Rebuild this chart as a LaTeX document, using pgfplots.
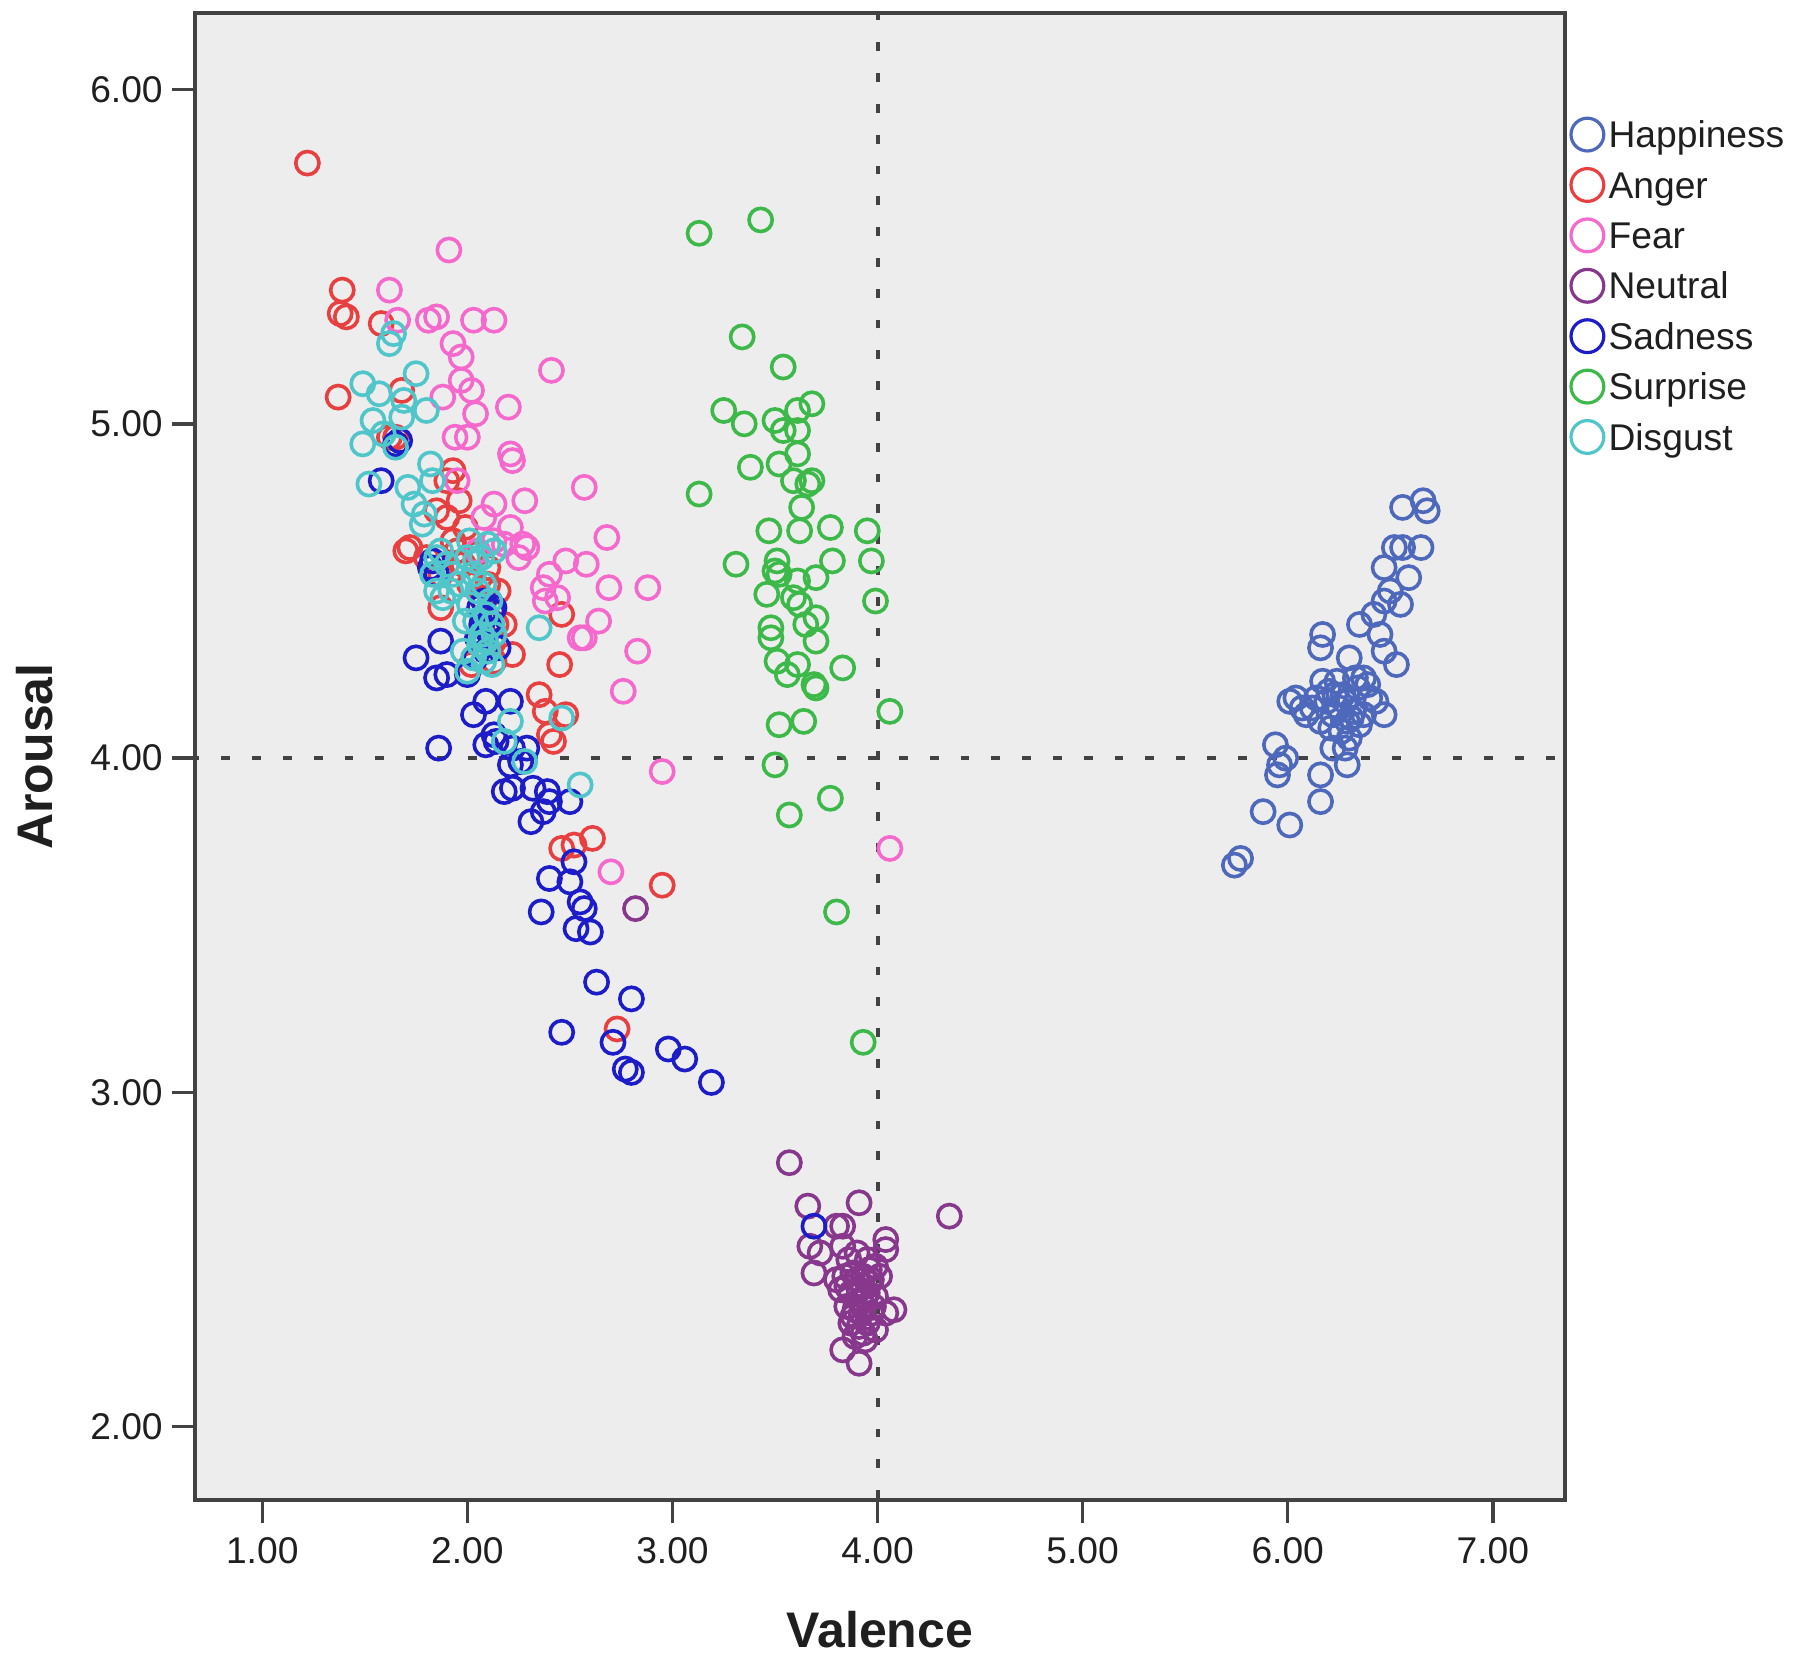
\documentclass[border=0pt]{standalone}
\usepackage{pgfplots}
\pgfplotsset{compat=1.18}
\usepackage{fontspec}
\setmainfont{Liberation Sans}
\definecolor{cHap}{RGB}{78,104,188}
\definecolor{cAng}{RGB}{232,64,64}
\definecolor{cFea}{RGB}{245,105,205}
\definecolor{cNeu}{RGB}{135,55,140}
\definecolor{cSad}{RGB}{28,28,200}
\definecolor{cSur}{RGB}{60,185,72}
\definecolor{cDis}{RGB}{80,198,202}
\definecolor{bgc}{RGB}{236,237,236}
\definecolor{framec}{RGB}{66,66,66}
\begin{document}
\begin{tikzpicture}
\begin{axis}[
  name=ax, scale only axis, width=342.5pt, height=371.75pt,
  xmin=0.672, xmax=7.352, ymin=1.781, ymax=6.229,
  axis background/.style={fill=bgc},
  axis line style={draw=framec, line width=0.85pt},
  xtick={1,2,3,4,5,6,7}, ytick={2,3,4,5,6},
  xtick pos=left, ytick pos=left, tick align=outside,
  major tick length=5.75pt,
  every tick/.style={draw=framec, line width=0.85pt},
  ticklabel style={font=\fontsize{9.3}{11}\selectfont, text=black!88},
  yticklabel style={xshift=1.2pt},
  /pgf/number format/fixed, /pgf/number format/fixed zerofill,
  /pgf/number format/precision=2, /pgf/number format/assume math mode=true,
  xlabel={Valence}, ylabel={Arousal},
  every axis x label/.style={at={(axis description cs:0.5,-0.0874)}, anchor=center, font=\fontsize{12.5}{15}\selectfont\bfseries, text=black!88},
  every axis y label/.style={at={(axis description cs:-0.1168,0.5)}, anchor=center, rotate=90, font=\fontsize{12.5}{15}\selectfont\bfseries, text=black!88},
  legend style={at={(axis description cs:1,1)}, anchor=north west, xshift=1.5pt, yshift=-26.3pt,
    draw=none, fill=none, inner sep=0pt, outer sep=0pt, row sep=3.2pt, column sep=1.2pt,
    font=\fontsize{9.3}{11}\selectfont, text=black!88,
    cells={anchor=base west}, nodes={inner sep=0pt, text height=6.7pt, text depth=2pt}},
  legend image code/.code={\draw[#1, mark size=4.1pt, line width=0.8pt] plot coordinates {(0pt,3.3pt)};},
  every axis plot/.append style={only marks, mark=o, mark size=2.9pt, line width=0.9pt},
]
% Happiness
\addplot[color=cHap] coordinates {
(5.74,3.68)(5.77,3.70)(5.88,3.84)(6.01,3.80)(6.16,3.87)(6.16,3.95)(5.95,3.95)(5.96,3.98)
(5.94,4.04)(5.99,4.00)(6.29,3.98)(6.28,4.03)(6.22,4.03)(6.30,4.06)(6.04,4.18)(6.07,4.15)
(6.09,4.13)(6.01,4.17)(6.17,4.23)(6.17,4.37)(6.16,4.33)(6.19,4.17)(6.22,4.13)(6.21,4.09)
(6.30,4.30)(6.27,4.19)(6.34,4.21)(6.37,4.24)(6.40,4.18)(6.37,4.13)(6.43,4.17)(6.47,4.13)
(6.35,4.10)(6.35,4.40)(6.42,4.43)(6.47,4.47)(6.45,4.37)(6.47,4.32)(6.53,4.28)(6.47,4.57)
(6.55,4.46)(6.59,4.54)(6.52,4.63)(6.56,4.63)(6.65,4.63)(6.56,4.75)(6.66,4.77)(6.68,4.74)
(6.50,4.50)(6.12,4.15)(6.16,4.11)(6.24,4.23)(6.25,4.15)(6.32,4.14)(6.29,4.11)(6.26,4.08)
(6.20,4.20)(6.28,4.17)(6.33,4.24)(6.14,4.18)(6.23,4.19)(6.39,4.22)(6.31,4.12)
};
\addlegendentry{Happiness}
% Anger
\addplot[color=cAng] coordinates {
(1.22,5.78)(1.39,5.40)(1.38,5.33)(1.41,5.32)(1.58,5.30)(1.37,5.08)(1.68,5.10)(1.70,4.62)
(1.87,4.55)(1.87,4.45)(1.96,4.77)(1.93,4.65)(1.99,4.69)(2.01,4.52)(2.07,4.48)(2.15,4.50)
(2.18,4.40)(2.22,4.31)(2.35,4.19)(2.38,4.14)(2.48,4.13)(2.42,4.05)(2.46,4.43)(2.45,4.28)
(2.46,3.73)(2.52,3.74)(2.61,3.76)(2.73,3.19)(2.95,3.62)(1.65,4.96)(1.85,4.74)(1.93,4.86)
(2.13,4.29)(2.04,4.61)(1.62,4.96)(1.90,4.83)(2.10,4.57)(2.05,4.36)(2.40,4.07)(1.72,4.63)
(1.98,4.58)(2.10,4.52)(2.14,4.40)(2.02,4.28)(1.90,4.72)(2.12,4.35)(1.80,4.60)(1.95,4.62)
};
\addlegendentry{Anger}
% Fear
\addplot[color=cFea] coordinates {
(1.91,5.52)(1.62,5.40)(1.66,5.31)(1.81,5.31)(1.85,5.32)(2.03,5.31)(2.13,5.31)(1.93,5.24)
(1.97,5.20)(1.97,5.13)(2.02,5.10)(2.04,5.03)(2.00,4.96)(1.94,4.96)(2.20,5.05)(2.41,5.16)
(2.21,4.91)(2.22,4.89)(1.95,4.83)(2.13,4.76)(2.28,4.77)(2.57,4.81)(2.13,4.65)(2.21,4.69)
(2.18,4.64)(2.27,4.64)(2.29,4.63)(2.48,4.59)(2.58,4.58)(2.68,4.66)(2.69,4.51)(2.88,4.51)
(2.37,4.51)(2.38,4.47)(2.40,4.55)(2.55,4.36)(2.57,4.36)(2.64,4.41)(2.83,4.32)(2.76,4.20)
(2.95,3.96)(4.06,3.73)(2.70,3.66)(1.88,5.08)(2.08,4.72)(2.25,4.60)(2.05,4.62)(2.44,4.48)
};
\addlegendentry{Fear}
% Neutral
\addplot[color=cNeu] coordinates {
(2.82,3.55)(3.57,2.79)(3.66,2.66)(3.91,2.67)(4.35,2.63)(3.83,2.60)(3.80,2.60)(3.67,2.54)
(3.72,2.52)(3.69,2.46)(4.04,2.56)(4.04,2.53)(3.83,2.54)(4.08,2.35)(4.04,2.34)(3.83,2.23)
(3.91,2.19)(3.86,2.50)(3.90,2.52)(3.95,2.50)(3.99,2.48)(3.84,2.45)(3.88,2.46)(3.93,2.45)
(3.97,2.44)(4.01,2.45)(3.82,2.41)(3.87,2.40)(3.91,2.41)(3.95,2.40)(3.99,2.39)(3.85,2.36)
(3.89,2.35)(3.93,2.36)(3.97,2.34)(3.87,2.31)(3.91,2.30)(3.95,2.31)(3.99,2.29)(3.89,2.27)
(3.94,2.26)(3.92,2.38)(3.96,2.43)(3.80,2.44)(3.93,2.28)(3.90,2.44)(3.94,2.39)(3.88,2.33)
(3.96,2.47)(3.92,2.34)(3.85,2.42)(3.98,2.36)
};
\addlegendentry{Neutral}
% Sadness
\addplot[color=cSad] coordinates {
(1.58,4.83)(1.65,4.94)(1.67,4.95)(1.75,4.30)(1.87,4.35)(1.90,4.25)(1.85,4.24)(1.86,4.03)
(1.83,4.59)(1.85,4.55)(2.03,4.13)(2.09,4.17)(2.21,4.17)(2.13,4.07)(2.14,4.05)(2.09,4.04)
(2.22,4.03)(2.29,4.03)(2.26,3.99)(2.21,3.98)(2.18,3.90)(2.22,3.91)(2.32,3.91)(2.39,3.90)
(2.40,3.87)(2.37,3.84)(2.31,3.81)(2.50,3.87)(2.52,3.69)(2.40,3.64)(2.50,3.63)(2.36,3.54)
(2.55,3.57)(2.57,3.55)(2.53,3.49)(2.60,3.48)(2.63,3.33)(2.80,3.28)(2.46,3.18)(2.71,3.15)
(2.77,3.07)(2.80,3.06)(2.98,3.13)(3.06,3.10)(3.19,3.03)(3.69,2.60)(2.06,4.45)(2.08,4.42)
(2.12,4.44)(2.10,4.38)(2.07,4.40)(2.04,4.30)(2.15,4.33)(2.00,4.25)(2.08,4.47)(2.11,4.41)
(2.05,4.36)(2.13,4.45)(2.09,4.32)(1.82,4.57)
};
\addlegendentry{Sadness}
% Surprise
\addplot[color=cSur] coordinates {
(3.13,5.57)(3.43,5.61)(3.34,5.26)(3.54,5.17)(3.25,5.04)(3.35,5.00)(3.50,5.01)(3.61,5.04)
(3.68,5.06)(3.54,4.98)(3.61,4.98)(3.38,4.87)(3.52,4.88)(3.61,4.91)(3.59,4.83)(3.66,4.82)
(3.68,4.83)(3.13,4.79)(3.63,4.75)(3.47,4.68)(3.62,4.68)(3.77,4.69)(3.95,4.68)(3.97,4.59)
(3.99,4.47)(3.31,4.58)(3.51,4.59)(3.50,4.56)(3.78,4.59)(3.70,4.54)(3.61,4.53)(3.46,4.49)
(3.59,4.48)(3.62,4.46)(3.70,4.42)(3.65,4.40)(3.48,4.39)(3.48,4.36)(3.70,4.35)(3.51,4.29)
(3.61,4.28)(3.56,4.25)(3.69,4.22)(3.70,4.21)(3.83,4.27)(4.06,4.14)(3.52,4.10)(3.64,4.11)
(3.50,3.98)(3.77,3.88)(3.57,3.83)(3.80,3.54)(3.93,3.15)(3.52,4.55)
};
\addlegendentry{Surprise}
% Disgust
\addplot[color=cDis] coordinates {
(1.62,5.24)(1.64,5.27)(1.49,5.12)(1.57,5.09)(1.69,5.07)(1.75,5.15)(1.49,4.94)(1.52,4.82)
(1.68,5.02)(1.80,5.04)(1.54,5.01)(1.59,4.97)(1.71,4.81)(1.74,4.76)(1.79,4.73)(1.82,4.88)
(1.83,4.83)(1.87,4.62)(1.83,4.55)(1.85,4.50)(1.93,4.55)(1.96,4.52)(2.01,4.65)(2.04,4.59)
(2.07,4.60)(2.10,4.64)(2.13,4.62)(2.01,4.46)(2.04,4.41)(2.07,4.37)(2.06,4.34)(2.10,4.32)
(2.13,4.37)(1.99,4.41)(2.00,4.26)(2.18,4.05)(2.21,4.11)(2.35,4.39)(2.55,3.92)(2.46,4.12)
(2.09,4.43)(2.11,4.47)(2.05,4.50)(2.08,4.29)(1.90,4.58)(1.78,4.70)(1.65,4.93)(2.28,3.99)
(1.88,4.48)(1.92,4.50)(2.03,4.55)(2.08,4.52)(2.12,4.40)(2.09,4.35)(2.03,4.30)(1.98,4.32)
(2.12,4.28)(1.85,4.60)(2.00,4.60)
};
\addlegendentry{Disgust}
% reference lines
\addplot[forget plot, no marks, sharp plot, draw=framec, line width=1pt, dash pattern=on 2.2pt off 5.5pt] coordinates {(4,1.6)(4,6.4)};
\addplot[forget plot, no marks, sharp plot, draw=framec, line width=1pt, dash pattern=on 2.2pt off 5.5pt] coordinates {(0.5,4)(7.5,4)};
\end{axis}
\pgfresetboundingbox
\path[use as bounding box] ([shift={(-48.75pt,-39.75pt)}]ax.south west) rectangle ([shift={(58.75pt,3.25pt)}]ax.north east);
\end{tikzpicture}
\end{document}
